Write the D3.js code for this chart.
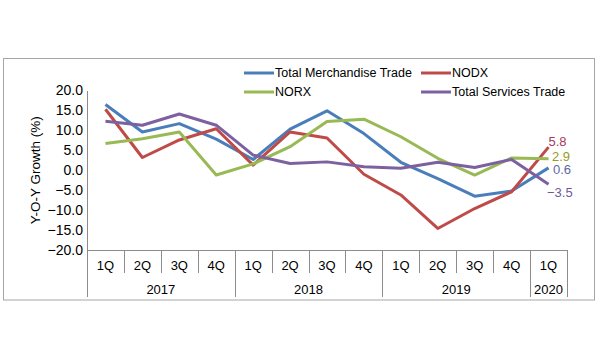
<!DOCTYPE html>
<html><head><meta charset="utf-8">
<script src="https://cdn.jsdelivr.net/npm/d3@7"></script>
<style>body{margin:0;background:#fff}svg{display:block}text{font-family:"Liberation Sans",Arial,sans-serif}</style>
</head><body><svg id="c" width="600" height="359"></svg>
<script>
const quarters = ["1Q","2Q","3Q","4Q","1Q","2Q","3Q","4Q","1Q","2Q","3Q","4Q","1Q"];
const years = [{label:"2017",start:0,n:4},{label:"2018",start:4,n:4},{label:"2019",start:8,n:4},{label:"2020",start:12,n:1}];
const yTicks = [20,15,10,5,0,-5,-10,-15,-20];
const merch = [16.5, 9.6, 11.7, 7.8, 2.7, 10.3, 14.9, 9.2, 2.0, -2.1, -6.5, -5.2, 0.6];
const nodx  = [15.3, 3.2, 7.6, 10.4, 1.3, 9.6, 8.1, -1.0, -6.2, -14.6, -9.6, -5.4, 5.8];
const norx  = [6.7, 7.9, 9.6, -1.2, 1.6, 5.9, 12.2, 12.8, 8.4, 3.0, -1.2, 3.1, 2.9];
const serv  = [12.3, 11.3, 14.1, 11.3, 3.8, 1.7, 2.1, 0.9, 0.5, 2.0, 0.7, 2.7, -3.5];
const seriesNames = ["Total Merchandise Trade","NODX","NORX","Total Services Trade"];
const seriesColors = ["#4a7ebb","#be4b48","#98b954","#7d60a0"];
const labelColors = ["#5b68a8","#a8385e","#9a9a16","#6b5a9e"];

const svg = d3.select("#c");
const L=87, R=567, T=90.5, B=250;
// frame
svg.append("rect").attr("x",3.5).attr("y",58.5).attr("width",591).attr("height",241.5)
  .attr("fill","none").attr("stroke","#a6a6a6").attr("stroke-width",1);

const x = d3.scaleBand().domain(d3.range(quarters.length)).range([L,R]).paddingInner(0).paddingOuter(0);
const y = d3.scaleLinear().domain([-20,20]).range([B,T]);
const cx = i => x(i)+x.bandwidth()/2;

// y axis
const ya = svg.append("g").attr("transform",`translate(${L},0)`)
  .call(d3.axisLeft(y).tickValues(yTicks).tickSize(0).tickPadding(4).tickFormat(d3.format(".1f")));
ya.select(".domain").attr("stroke","#8c8c8c");
ya.selectAll("text").attr("font-size",14).attr("fill","#000").attr("font-family","Liberation Sans, Arial, sans-serif");

// y title
svg.append("text").attr("transform",`translate(40,${(T+B)/2}) rotate(-90)`).attr("text-anchor","middle")
  .attr("font-size",13.5).attr("fill","#000").text("Y-O-Y Growth (%)");

// x axis
const xg = svg.append("g");
xg.append("line").attr("x1",L).attr("x2",R).attr("y1",B+0.5).attr("y2",B+0.5).attr("stroke","#8c8c8c");
const yearStarts = new Set(years.map(d=>d.start));
for(let i=0;i<=quarters.length;i++){
  const xx = i<quarters.length ? x(i) : R;
  const isYear = yearStarts.has(i) || i===quarters.length;
  xg.append("line").attr("x1",Math.round(xx)+0.5).attr("x2",Math.round(xx)+0.5).attr("y1",B).attr("y2",isYear?297:273).attr("stroke","#8c8c8c");
}
xg.selectAll("text.q").data(quarters).join("text").attr("class","q")
  .attr("x",(d,i)=>cx(i)).attr("y",270).attr("text-anchor","middle").attr("font-size",13).attr("fill","#000").text(d=>d);
xg.selectAll("text.yr").data(years).join("text").attr("class","yr")
  .attr("x",d=>(x(d.start)+(d.start+d.n<quarters.length?x(d.start+d.n):R))/2).attr("y",294)
  .attr("text-anchor","middle").attr("font-size",13).attr("fill","#000").text(d=>d.label);

// lines
const data = [merch,nodx,norx,serv];
const line = d3.line().x((d,i)=>cx(i)).y(d=>y(d));
data.forEach((s,k)=>{
  svg.append("path").datum(s).attr("d",line).attr("fill","none").attr("stroke",seriesColors[k])
    .attr("stroke-width",3).attr("stroke-linejoin","round");
});

// end labels
const labelOffsets = [{dx:4.5,dy:2},{dx:0,dy:-6},{dx:3.5,dy:-2.5},{dx:-1.5,dy:8}];
data.forEach((s,k)=>{
  const v = s[s.length-1];
  svg.append("text").attr("x",cx(s.length-1)+labelOffsets[k].dx).attr("y",y(v)+labelOffsets[k].dy)
    .attr("dy","0.35em").attr("font-size",13).attr("fill",labelColors[k]).text(d3.format(".1f")(v));
});

// legend
const leg = [{k:0,x:244,y:73},{k:1,x:421,y:73},{k:2,x:244,y:92},{k:3,x:421,y:92}];
leg.forEach(d=>{
  svg.append("line").attr("x1",d.x).attr("x2",d.x+30).attr("y1",d.y).attr("y2",d.y)
    .attr("stroke",seriesColors[d.k]).attr("stroke-width",3);
  svg.append("text").attr("x",d.x+31).attr("y",d.y).attr("dy","0.35em").attr("font-size",12.5)
    .attr("fill","#000").text(seriesNames[d.k]);
});
</script></body></html>
